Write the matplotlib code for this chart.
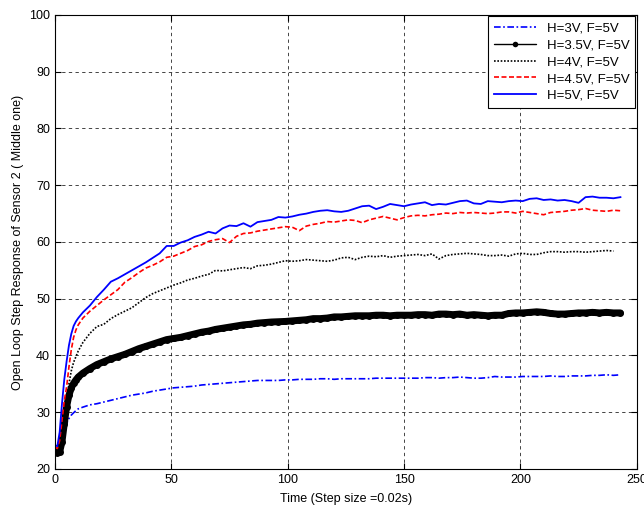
import numpy as np
import matplotlib
matplotlib.use("Agg")
import matplotlib.pyplot as plt

plt.rcParams['font.family'] = ['Liberation Sans', 'DejaVu Sans']

# sample index (step size 0.02 s)
t = list(range(0, 11)) + list(range(12, 244, 3))

h3 = [23.4, 23.3, 23.8, 25.2, 26.8, 28.0, 28.9, 29.5, 29.9, 30.3, 30.6,
      30.9, 31.3, 31.5, 31.8, 32.1, 32.4, 32.7, 33.0, 33.2, 33.4, 33.7, 33.9, 34.1,
      34.3, 34.4, 34.5, 34.6, 34.8, 34.9, 35.0, 35.1, 35.2, 35.3, 35.4, 35.5, 35.6,
      35.6, 35.6, 35.6, 35.7, 35.7, 35.8, 35.8, 35.8, 35.9, 35.9, 35.8, 35.9, 35.9,
      35.9, 35.9, 35.9, 36.0, 36.0, 36.0, 36.0, 36.0, 36.0, 36.0, 36.1, 36.1, 36.0,
      36.1, 36.1, 36.2, 36.1, 36.0, 36.0, 36.1, 36.3, 36.2, 36.2, 36.2, 36.3, 36.3,
      36.3, 36.3, 36.4, 36.3, 36.3, 36.4, 36.4, 36.4, 36.5, 36.5, 36.6, 36.5, 36.6]

h35 = [23.0, 22.9, 23.0, 24.8, 28.0, 31.0, 33.0, 34.3, 35.1, 35.7, 36.2,
       36.9, 37.7, 38.4, 38.9, 39.4, 39.8, 40.2, 40.7, 41.2, 41.6, 42.0, 42.4, 42.8,
       43.0, 43.2, 43.5, 43.8, 44.1, 44.3, 44.6, 44.8, 45.0, 45.2, 45.4, 45.5, 45.7,
       45.8, 45.9, 45.95, 46.0, 46.1, 46.2, 46.3, 46.5, 46.5, 46.6, 46.8, 46.8, 46.9,
       47.0, 47.0, 47.0, 47.1, 47.1, 47.0, 47.1, 47.1, 47.1, 47.2, 47.2, 47.1, 47.3,
       47.3, 47.2, 47.3, 47.1, 47.2, 47.1, 47.0, 47.1, 47.1, 47.4, 47.5, 47.5, 47.6,
       47.7, 47.6, 47.4, 47.3, 47.3, 47.4, 47.5, 47.5, 47.6, 47.5, 47.6, 47.5, 47.5]

h4 = [23.3, 23.2, 24.0, 26.0, 29.0, 32.0, 35.0, 37.3, 38.8, 39.8, 40.8,
      42.3, 43.9, 45.1, 45.5, 46.5, 47.2, 47.8, 48.4, 49.3, 50.2, 50.9, 51.4, 51.9,
      52.4, 52.8, 53.3, 53.6, 54.0, 54.3, 55.0, 54.9, 55.1, 55.3, 55.5, 55.3, 55.8,
      55.9, 56.1, 56.4, 56.7, 56.6, 56.7, 56.9, 56.8, 56.7, 56.6, 56.8, 57.2, 57.3,
      56.9, 57.3, 57.5, 57.4, 57.6, 57.3, 57.5, 57.6, 57.7, 57.8, 57.6, 57.9, 57.0,
      57.6, 57.8, 57.9, 58.0, 57.9, 57.8, 57.6, 57.6, 57.7, 57.5, 57.9, 58.0, 57.8,
      57.8, 58.1, 58.3, 58.3, 58.2, 58.3, 58.3, 58.2, 58.3, 58.4, 58.5, 58.4, np.nan]

h45 = [23.9, 23.6, 25.0, 28.5, 32.0, 34.5, 38.0, 41.0, 43.2, 44.5, 45.4,
       46.6, 47.8, 48.8, 49.8, 50.7, 51.6, 52.9, 53.7, 54.6, 55.4, 55.9, 56.5, 57.3,
       57.5, 58.0, 58.5, 59.2, 59.5, 60.1, 60.4, 60.6, 59.9, 61.0, 61.5, 61.6, 61.9,
       62.1, 62.3, 62.5, 62.7, 62.6, 62.0, 62.8, 63.1, 63.3, 63.6, 63.5, 63.7, 63.9,
       63.8, 63.4, 63.9, 64.2, 64.5, 64.2, 63.9, 64.3, 64.6, 64.7, 64.6, 64.8, 64.9,
       65.1, 65.0, 65.2, 65.1, 65.2, 65.1, 65.0, 65.1, 65.3, 65.3, 65.1, 65.4, 65.2,
       65.0, 64.8, 65.2, 65.3, 65.4, 65.6, 65.7, 65.9, 65.6, 65.5, 65.4, 65.6, 65.5]

h5 = [24.2, 24.0, 26.5, 31.5, 35.8, 39.0, 41.8, 43.8, 45.2, 46.0, 46.6,
      47.6, 48.8, 50.3, 51.6, 53.0, 53.6, 54.3, 55.0, 55.7, 56.4, 57.2, 58.0, 59.3,
      59.3, 59.9, 60.3, 60.9, 61.3, 61.8, 61.5, 62.4, 62.9, 62.8, 63.3, 62.7, 63.5,
      63.7, 63.9, 64.4, 64.3, 64.5, 64.8, 65.0, 65.3, 65.5, 65.6, 65.4, 65.3, 65.5,
      65.9, 66.3, 66.4, 65.8, 66.2, 66.7, 66.5, 66.3, 66.6, 66.8, 67.0, 66.5, 66.7,
      66.6, 66.9, 67.2, 67.3, 66.8, 66.7, 67.2, 67.1, 67.0, 67.2, 67.3, 67.2, 67.6,
      67.7, 67.4, 67.5, 67.3, 67.4, 67.2, 66.9, 67.9, 68.0, 67.8, 67.8, 67.7, 67.9]

labels = ['H=3V, F=5V', 'H=3.5V, F=5V', 'H=4V, F=5V', 'H=4.5V, F=5V', 'H=5V, F=5V']

fig = plt.figure(figsize=(6.44, 5.08), dpi=100)
ax = fig.add_axes([0.0854, 0.0768, 0.9033, 0.8937])

ax.plot(t, h3, color='#0000ff', linestyle=(0, (4, 1.5, 1, 1.5)), linewidth=1.2, label=labels[0])
# dense markers in the original make this trace look like a thick band
ax.plot(t, h35, color='black', linestyle='-', linewidth=5, solid_capstyle='round',
        marker='o', markersize=5, markeredgewidth=0, label=labels[1])
ax.plot(t, h4, color='black', linestyle=(0, (1, 1)), linewidth=1.2, label=labels[2])
ax.plot(t, h45, color='#ff0000', linestyle=(0, (3, 1.5)), linewidth=1.2, label=labels[3])
ax.plot(t, h5, color='#0000ff', linestyle='-', linewidth=1.3, label=labels[4])

ax.set_xlim(0, 250)
ax.set_ylim(20, 100)
ax.set_xticks(range(0, 251, 50))
ax.set_yticks(range(20, 101, 10))
ax.tick_params(direction='in', labelsize=9, top=True, right=True, length=4)
ax.grid(True, color='black', linestyle=(0, (4, 4)), linewidth=0.6, alpha=0.85)
for s in ax.spines.values():
    s.set_linewidth(0.8)

ax.set_xlabel('Time (Step size =0.02s)', fontsize=9, labelpad=5)
ax.set_ylabel('Open Loop Step Response of Sensor 2 ( Middle one)', fontsize=9, labelpad=4)

leg = ax.legend(loc='upper right', fontsize=9.5, fancybox=False, edgecolor='black',
                framealpha=1, borderaxespad=0.1, handlelength=3.2, labelspacing=0.35,
                borderpad=0.45)
leg.get_frame().set_linewidth(0.8)
leg.legend_handles[1].set_linewidth(1)
leg.legend_handles[1].set_markersize(4)

fig.savefig('out.png', dpi=100)
